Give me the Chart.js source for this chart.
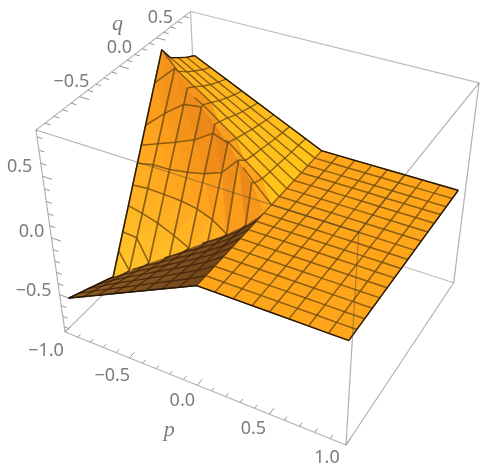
<!DOCTYPE html>
<html>
<head>
<meta charset="utf-8">
<style>
  body { margin: 0; background: #fff; }
  canvas { display: block; filter: blur(0.45px); }
</style>
<script src="https://cdn.jsdelivr.net/npm/chart.js@4"></script>
</head>
<body>
<canvas id="surfaceChart" width="480" height="468"></canvas>
<script>
// axis ticks
const pTicks = [-1, -0.5, 0, 0.5, 1];
const qTicks = [-0.5, 0, 0.5];
const zTicks = [-0.5, 0, 0.5];
const minorTicks = [-0.9, -0.8, -0.7, -0.6, -0.4, -0.3, -0.2, -0.1, 0.1, 0.2, 0.3, 0.4, 0.6, 0.7, 0.8, 0.9];

// mesh columns and rows
const pLeft = [-0.93, -0.81, -0.69, -0.57, -0.45, -0.33, -0.21, -0.09, 0.03];
const pFlat = [0.03, 0.15, 0.27, 0.39, 0.5, 0.62, 0.74, 0.86, 0.98];
const qRows = [-1, -0.88, -0.76, -0.64, -0.52, -0.4, -0.28, -0.165, -0.05, 0.07, 0.19, 0.31, 0.43, 0.55, 0.66, 0.78, 0.9];
const zFlat = 0.04;

// the two crease lines, one value per pLeft
const foldQ = [-0.44, -0.41, -0.34, -0.26, -0.2, -0.15, -0.11, -0.07, -0.05];
const foldZ = [-0.68, -0.59, -0.513, -0.449, -0.366, -0.286, -0.199, -0.097, 0.04];
const ridgeQ = [0.44, 0.39, 0.33, 0.29, 0.24, 0.18, 0.09, 0.03, -0.05];
const ridgeZ = [0.8, 0.712, 0.617, 0.52, 0.446, 0.362, 0.313, 0.207, 0.04];

// heights outside the steep face: one row per qRows, one value per pLeft
const _ = null;
const zGrid = [
  [-0.5, -0.4325, -0.365, -0.2975, -0.23, -0.1625, -0.095, -0.0275, 0.04],
  [-0.539, -0.464, -0.392, -0.322, -0.25, -0.18, -0.109, -0.037, 0.04],
  [-0.577, -0.497, -0.419, -0.347, -0.271, -0.197, -0.123, -0.046, 0.04],
  [-0.616, -0.529, -0.446, -0.371, -0.291, -0.215, -0.137, -0.054, 0.04],
  [-0.654, -0.561, -0.473, -0.396, -0.312, -0.233, -0.151, -0.063, 0.04],
  [_, _, -0.5, -0.42, -0.332, -0.25, -0.165, -0.072, 0.04],
  [_, _, _, -0.445, -0.352, -0.267, -0.179, -0.081, 0.04],
  [_, _, _, _, _, -0.284, -0.193, -0.09, 0.04],
  [_, _, _, _, _, _, _, _, 0.04],
  [_, _, _, _, _, _, _, 0.178, 0.04],
  [_, _, _, _, _, 0.363, 0.255, 0.148, 0.04],
  [_, _, _, 0.528, 0.43, 0.333, 0.235, 0.138, 0.04],
  [_, 0.67, 0.58, 0.49, 0.4, 0.31, 0.22, 0.13, 0.04],
  [0.69, 0.609, 0.528, 0.446, 0.365, 0.284, 0.203, 0.121, 0.04],
  [0.64, 0.565, 0.49, 0.415, 0.34, 0.265, 0.19, 0.115, 0.04],
  [0.59, 0.521, 0.453, 0.384, 0.315, 0.246, 0.178, 0.109, 0.04],
  [0.55, 0.486, 0.423, 0.359, 0.295, 0.231, 0.168, 0.104, 0.04]
];

// curved cross lines on the steep face: share of the way from fold (0) to ridge (1)
const faceLines = [
  [0.118, 0, _, _, _, _, _, _, _],
  [0.205, 0.167, 0, _, _, _, _, _, _],
  [0.323, 0.29, 0.234, 0.141, 0, _, _, _, _],
  [0.415, 0.414, 0.4, 0.376, 0.323, 0.224, 0, _, _],
  [0.511, 0.532, 0.543, 0.57, 0.605, 0.704, 1, _, _],
  [0.59, 0.635, 0.697, 0.785, 0.927, 1, _, _, _],
  [0.677, 0.783, 0.909, 1, _, _, _, _, _],
  [0.86, 1, _, _, _, _, _, _, _]
];

// box range and the camera, taken from the box corners in the picture
const zMin = -0.85, zMax = 0.85;
const cam = {
  o: [65, 332], u: [346, 445], v: [199, 200], t: [36, 130],
  wu: 0.89, wv: 1.15, wt: 0.875
};

function project(p, q, z) {
  const u = (p + 1) / 2, v = (q + 1) / 2, t = (z - zMin) / (zMax - zMin);
  const w = 1 + u * (cam.wu - 1) + v * (cam.wv - 1) + t * (cam.wt - 1);
  const at = k => (cam.o[k]
    + u * (cam.wu * cam.u[k] - cam.o[k])
    + v * (cam.wv * cam.v[k] - cam.o[k])
    + t * (cam.wt * cam.t[k] - cam.o[k])) / w;
  return { x: at(0), y: at(1) };
}
const toPixel = n => project(n.p, n.q, n.z);

function faceNode(i, s) {
  return {
    p: pLeft[i],
    q: foldQ[i] + (ridgeQ[i] - foldQ[i]) * s,
    z: foldZ[i] + (ridgeZ[i] - foldZ[i]) * s,
    rank: 1 + s
  };
}

// one profile per column, front edge to back edge, creases included.
// rank: 0..1 below the fold, 1..2 on the steep face, 2..3 behind the ridge
const lastQ = qRows[qRows.length - 1];
const profiles = pLeft.map((p, i) => {
  const nodes = [faceNode(i, 0), faceNode(i, 1)];
  qRows.forEach((q, j) => {
    const z = zGrid[j][i];
    if (z === null) return;
    if (q < foldQ[i]) nodes.push({ p, q, z, rank: (q + 1) / (foldQ[i] + 1) });
    else if (q > ridgeQ[i]) nodes.push({ p, q, z, rank: 2 + (q - ridgeQ[i]) / (lastQ - ridgeQ[i]) });
  });
  faceLines.forEach(row => {
    if (row[i] !== null && row[i] > 0 && row[i] < 1) nodes.push(faceNode(i, row[i]));
  });
  return nodes.sort((a, b) => a.rank - b.rank);
});

function mix(a, b, f) {
  return a.map((c, i) => Math.round(c + (b[i] - c) * f));
}
function rgb(c) { return 'rgb(' + c.join(',') + ')'; }

function cellColor(i, rank) {
  const across = (i + 0.5) / (pLeft.length - 1);
  if (rank < 1) return rgb(mix([146, 92, 36], [112, 68, 24], across));
  if (rank < 2) {
    const g = Math.min(1, 0.7 * (rank - 1) + 0.42 * across);
    return g < 0.5
      ? rgb(mix([255, 200, 42], [255, 162, 28], g * 2))
      : rgb(mix([255, 162, 28], [226, 122, 22], g * 2 - 1));
  }
  if (rank < 2.15) return rgb(mix([240, 142, 26], [255, 168, 30], across));
  return rgb(mix([255, 176, 30], [255, 196, 24], across));
}

const datasets = [];

function addLine(points, color, width) {
  datasets.push({ data: points, showLine: true, pointRadius: 0, borderColor: color, borderWidth: width, fill: false, tension: 0 });
}
function addCell(points, color) {
  datasets.push({
    data: points.concat([points[0]]), showLine: true, pointRadius: 0, borderColor: color, borderWidth: 0.7,
    backgroundColor: color, fill: 'shape', tension: 0
  });
}
function edge(a, b) {
  return [project(a[0], a[1], a[2]), project(b[0], b[1], b[2])];
}

const boxBack = 'rgb(188,188,188)';
const boxFront = 'rgba(70,70,60,0.42)';

// back edges of the box go under the surface
addLine(edge([-1, 1, zMin], [-1, 1, zMax]), boxBack, 1.2);
addLine(edge([-1, -1, zMin], [-1, 1, zMin]), boxBack, 1.2);
addLine(edge([1, 1, zMin], [-1, 1, zMin]), boxBack, 1.2);
addLine(edge([-1, -1, zMax], [-1, 1, zMax]), boxBack, 1.2);
addLine(edge([-1, 1, zMax], [1, 1, zMax]), boxBack, 1.2);

// surface: triangle strips between neighbouring columns on the folded side
for (let i = 0; i < pLeft.length - 1; i++) {
  const a = profiles[i], b = profiles[i + 1];
  let ia = 0, ib = 0;
  while (ia < a.length - 1 || ib < b.length - 1) {
    const takeA = ib >= b.length - 1 || (ia < a.length - 1 && a[ia + 1].rank <= b[ib + 1].rank);
    const next = takeA ? a[ia + 1] : b[ib + 1];
    const rank = (a[ia].rank + b[ib].rank + next.rank) / 3;
    addCell([a[ia], b[ib], next].map(toPixel), cellColor(i, rank));
    if (takeA) ia++; else ib++;
  }
}
// flat side
for (let i = 0; i < pFlat.length - 1; i++) {
  for (let k = 0; k < qRows.length - 1; k++) {
    addCell([
      project(pFlat[i], qRows[k], zFlat), project(pFlat[i], qRows[k + 1], zFlat),
      project(pFlat[i + 1], qRows[k + 1], zFlat), project(pFlat[i + 1], qRows[k], zFlat)
    ], 'rgb(255,165,26)');
  }
}

// mesh lines
const meshColor = 'rgba(118,80,16,0.85)';
const darkMesh = 'rgba(66,38,10,0.85)';
profiles.forEach(nodes => {
  addLine(nodes.filter(n => n.rank <= 1).map(toPixel), darkMesh, 1.3);
  addLine(nodes.filter(n => n.rank >= 1 && n.rank <= 2).map(toPixel), meshColor, 1.7);
  addLine(nodes.filter(n => n.rank >= 2).map(toPixel), meshColor, 1.4);
});
pFlat.slice(1).forEach(p => addLine(qRows.map(q => project(p, q, zFlat)), meshColor, 1.5));
faceLines.forEach(row => {
  const pts = [];
  row.forEach((s, i) => { if (s !== null) pts.push(toPixel(faceNode(i, s))); });
  addLine(pts, meshColor, 1.5);
});
qRows.forEach((q, j) => {
  const row = zGrid[j];
  const first = row.findIndex(z => z !== null);
  const pts = [];
  if (first > 0) {
    // the row starts where it leaves a crease
    const lower = q < 0 || q <= foldQ[first];
    const cq = lower ? foldQ : ridgeQ, cz = lower ? foldZ : ridgeZ;
    const f = (q - cq[first - 1]) / (cq[first] - cq[first - 1]);
    pts.push(project(pLeft[first - 1] + (pLeft[first] - pLeft[first - 1]) * f, q, cz[first - 1] + (cz[first] - cz[first - 1]) * f));
  }
  pLeft.forEach((p, i) => { if (row[i] !== null) pts.push(project(p, q, row[i])); });
  addLine(pts, q < -0.05 ? darkMesh : meshColor, 1.4);
  addLine(pFlat.map(p => project(p, q, zFlat)), meshColor, 1.5);
});

// dark outline
const outlineColor = 'rgb(34,22,10)';
addLine(profiles[0].map(toPixel), outlineColor, 1.2);
addLine(pLeft.map((p, i) => project(p, qRows[0], zGrid[0][i])).concat(pFlat.map(p => project(p, qRows[0], zFlat))), outlineColor, 1.2);
addLine(pLeft.map((p, i) => project(p, lastQ, zGrid[zGrid.length - 1][i])).concat(pFlat.map(p => project(p, lastQ, zFlat))), outlineColor, 1.2);
addLine(qRows.map(q => project(pFlat[pFlat.length - 1], q, zFlat)), outlineColor, 1.2);

// front edges of the box go over it
addLine(edge([-1, -1, zMin], [-1, -1, zMax]), boxFront, 1.2);
addLine(edge([1, 1, zMin], [1, 1, zMax]), boxFront, 1.2);
addLine(edge([1, -1, zMin], [1, -1, zMax]), boxFront, 1.2);
addLine(edge([-1, -1, zMin], [1, -1, zMin]), boxFront, 1.2);
addLine(edge([1, -1, zMin], [1, 1, zMin]), boxFront, 1.2);
addLine(edge([-1, -1, zMax], [1, -1, zMax]), boxFront, 1.2);
addLine(edge([1, -1, zMax], [1, 1, zMax]), boxFront, 1.2);

// tick marks
function addTick(base, dir, len) {
  addLine(edge(base, [base[0] + dir[0] * len, base[1] + dir[1] * len, base[2] + dir[2] * len]), 'rgb(150,150,150)', 1);
}
pTicks.forEach(v => addTick([v, -1, zMin], [0, 1, 0], 0.07));
minorTicks.forEach(v => addTick([v, -1, zMin], [0, 1, 0], 0.04));
qTicks.forEach(v => addTick([-1, v, zMax], [1, 0, 0], 0.07));
minorTicks.forEach(v => addTick([-1, v, zMax], [1, 0, 0], 0.04));
zTicks.forEach(v => addTick([-1, -1, v], [1, 0, 0], 0.07));
minorTicks.forEach(v => { if (v > zMin && v < zMax) addTick([-1, -1, v], [1, 0, 0], 0.04); });

// label offsets from the tick, in pixels
const pLabelShift = [[-19, 19], [-17, 18], [-15, 16], [-16, 15], [-19, 13]];
const qLabelShift = [[-8, -15], [0, -18], [4, -20]];
const zLabelShift = [[-26, -4], [-20, -6], [-23, -9]];

function tickText(v) {
  return (v < 0 ? '\u2212' : '') + Math.abs(v).toFixed(1);
}

const axisLabels = {
  id: 'axisLabels',
  afterDraw(chart) {
    const { ctx, scales: { x, y } } = chart;
    const put = (text, pt, shift) => ctx.fillText(text, x.getPixelForValue(pt.x) + shift[0], y.getPixelForValue(pt.y) + shift[1]);
    ctx.save();
    ctx.fillStyle = '#7c7c7c';
    ctx.textAlign = 'center';
    ctx.textBaseline = 'middle';
    ctx.font = '18px "Noto Sans"';
    pTicks.forEach((v, i) => put(tickText(v), project(v, -1, zMin), pLabelShift[i]));
    qTicks.forEach((v, i) => put(tickText(v), project(-1, v, zMax), qLabelShift[i]));
    zTicks.forEach((v, i) => put(tickText(v), project(-1, -1, v), zLabelShift[i]));
    ctx.font = 'italic 22px "Liberation Serif"';
    put('p', project(0, -1, zMin), [-28, 45]);
    put('q', project(-1, 0, zMax), [-2, -42]);
    ctx.restore();
  }
};

new Chart(document.getElementById('surfaceChart'), {
  type: 'scatter',
  data: { datasets: datasets.reverse() },
  options: {
    responsive: false,
    animation: false,
    events: [],
    layout: { padding: 0 },
    plugins: { legend: { display: false }, tooltip: { enabled: false } },
    scales: {
      x: { type: 'linear', min: 0, max: 480, display: false },
      y: { type: 'linear', min: 0, max: 468, reverse: true, display: false }
    }
  },
  plugins: [axisLabels]
});
</script>
</body>
</html>
